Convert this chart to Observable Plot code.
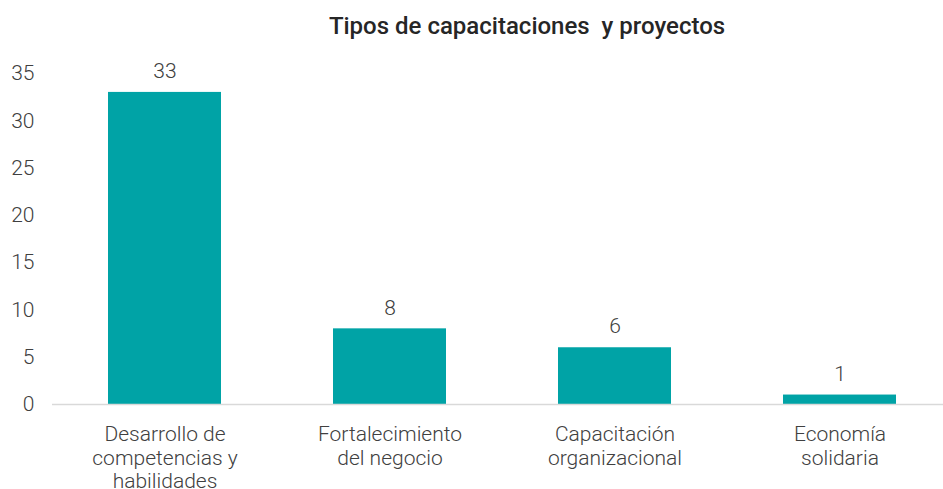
<!DOCTYPE html>
<html>
<head>
<meta charset="utf-8">
<script src="https://cdn.jsdelivr.net/npm/d3@7"></script>
<script src="https://cdn.jsdelivr.net/npm/@observablehq/plot@0.6"></script>
<style>
  body { margin: 0; background: #fff; font-family: Roboto, sans-serif; }
  #title { width: 943px; height: 50px; box-sizing: border-box; padding-left: 111px; text-align: center;
           font-family: Roboto, sans-serif; font-weight: 500; font-size: 24px; color: #262626; line-height: 52px; white-space: pre; }
</style>
</head>
<body>
<div id="title">Tipos de capacitaciones  y proyectos</div>
<div id="chart"></div>
<script>
const categories = ["Desarrollo de competencias y habilidades", "Fortalecimiento del negocio", "Capacitación organizacional", "Economía solidaria"];
const tickLabels = ["Desarrollo de\ncompetencias y\nhabilidades", "Fortalecimiento\ndel negocio", "Capacitación\norganizacional", "Economía\nsolidaria"];
const values = [33, 8, 6, 1];
const yTicks = [0, 5, 10, 15, 20, 25, 30, 35];

const data = categories.map((c, i) => ({category: c, value: values[i], label: tickLabels[i]}));
const labelOf = new Map(categories.map((c, i) => [c, tickLabels[i]]));

const chart = Plot.plot({
  width: 943,
  height: 439,
  marginTop: 23,
  marginBottom: 85,
  marginLeft: 52,
  marginRight: 0,
  style: {fontFamily: "Roboto, sans-serif", fontWeight: 300, fontSize: "21px", color: "#404040", background: "#fff", overflow: "visible"},
  x: {domain: categories, range: [52, 952], paddingInner: 0.5, paddingOuter: 0.25, label: null},
  y: {domain: [0, 35], label: null},
  marks: [
    Plot.axisY({ticks: yTicks, tickSize: 0, tickPadding: 18, fontSize: 21, fill: "#404040", label: null}),
    Plot.axisX({tickSize: 0, tickPadding: 20, fontSize: 21, fill: "#404040", lineHeight: 1.12, tickFormat: d => labelOf.get(d), label: null}),
    Plot.barY(data, {x: "category", y: "value", fill: "#00A3A6"}),
    Plot.ruleY([0], {stroke: "#d9d9d9", strokeWidth: 1.5}),
    Plot.text(data, {x: "category", y: "value", text: d => String(d.value), dy: -21, fontSize: 21, fill: "#404040"})
  ]
});
document.getElementById("chart").appendChild(chart);
</script>
</body>
</html>
